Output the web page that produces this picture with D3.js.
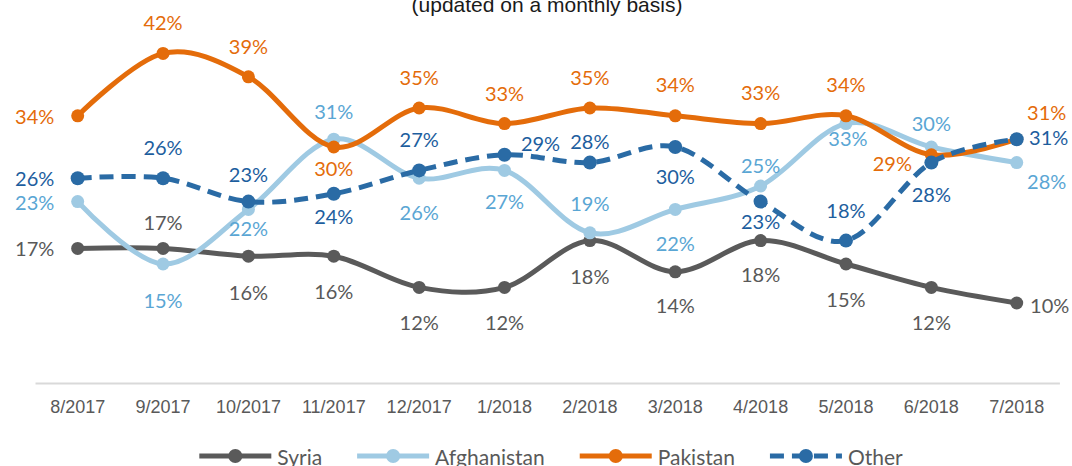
<!DOCTYPE html>
<html>
<head>
<meta charset="utf-8">
<script src="https://cdn.jsdelivr.net/npm/d3@7"></script>
<style>
  body { margin: 0; background: #fff; }
</style>
</head>
<body>
<div id="chart"></div>
<script>
const months = ["8/2017", "9/2017", "10/2017", "11/2017", "12/2017", "1/2018",
  "2/2018", "3/2018", "4/2018", "5/2018", "6/2018", "7/2018"];

const syria       = [17, 17, 16, 16, 12, 12, 18, 14, 18, 15, 12, 10];
const afghanistan = [23, 15, 22, 31, 26, 27, 19, 22, 25, 33, 30, 28];
const pakistan    = [34, 42, 39, 30, 35, 33, 35, 34, 33, 34, 29, 31];
const other       = [26, 26, 23, 24, 27, 29, 28, 30, 23, 18, 28, 31];

// where each data label sits relative to its point [dx, dy]
const syriaLabelPos = [[-43, 0], [0, -26], [0, 36], [0, 35], [0, 35], [0, 35],
  [0, 35], [0, 33], [0, 33], [0, 35], [0, 35], [33, 2]];
const afghanLabelPos = [[-43, 0], [0, 36], [0, 19], [0, -28], [0, 34], [0, 31],
  [0, -30], [0, 34], [0, -21], [2, 14], [0, -24], [30, 18]];
const pakistanLabelPos = [[-43, 0], [0, -31], [0, -31], [0, 21], [0, -31], [0, -31],
  [0, -31], [0, -32], [0, -32], [0, -32], [-39, 8], [30, -27]];
const otherLabelPos = [[-43, 0], [0, -31], [0, -28], [0, 22], [0, -31], [36, -12],
  [0, -22], [0, 29], [0, 19], [0, -31], [0, 31], [32, -2]];

const width = 1072;
const height = 466;

const series = [
  { name: "Syria", values: syria, labels: syriaLabelPos, color: "#5a5a5a", text: "#595959", r: 6.5 },
  { name: "Afghanistan", values: afghanistan, labels: afghanLabelPos, color: "#9fcae3", text: "#5aa6d4", r: 6.5 },
  { name: "Pakistan", values: pakistan, labels: pakistanLabelPos, color: "#e46c0a", text: "#e46c0a", r: 6.5 },
  { name: "Other", values: other, labels: otherLabelPos, color: "#2a6ba5", text: "#1d5e9e", r: 7, dash: "14,8" }
];

const svg = d3.select("#chart")
  .append("svg")
  .attr("width", width)
  .attr("height", height);

const x = d3.scaleBand()
  .domain(months)
  .range([35, 1059.4]);

const y = d3.scaleLinear()
  .domain([0, 45])
  .range([381, 30]);

const cx = d => x(d) + x.bandwidth() / 2;

// subtitle (top line is cut off in the original)
svg.append("text")
  .attr("x", 547)
  .attr("y", 12)
  .attr("text-anchor", "middle")
  .style("font-family", "'Liberation Sans', Arial, sans-serif")
  .style("font-size", "21px")
  .style("fill", "#1a1a1a")
  .text("(updated on a monthly basis)");

// X axis
const xAxis = svg.append("g")
  .attr("transform", "translate(0,383)")
  .call(d3.axisBottom(x).tickSize(0).tickPadding(17));

xAxis.select(".domain")
  .attr("stroke", "#d9d9d9")
  .attr("stroke-width", 2);

xAxis.selectAll("text")
  .style("font-family", "'Liberation Sans', Arial, sans-serif")
  .style("font-size", "18px")
  .style("fill", "#595959");

const line = d3.line()
  .x((d, i) => cx(months[i]))
  .y(d => y(d))
  .curve(d3.curveCatmullRom.alpha(0));

// lines and markers
series.forEach(s => {
  const g = svg.append("g");
  g.append("path")
    .datum(s.values)
    .attr("d", line)
    .attr("fill", "none")
    .attr("stroke", s.color)
    .attr("stroke-width", 5)
    .attr("stroke-dasharray", s.dash || null);

  g.selectAll("circle")
    .data(s.values)
    .enter()
    .append("circle")
    .attr("cx", (d, i) => cx(months[i]))
    .attr("cy", d => y(d))
    .attr("r", s.r)
    .attr("fill", s.color);
});

// data labels
series.forEach(s => {
  svg.append("g")
    .selectAll("text")
    .data(s.values)
    .enter()
    .append("text")
    .attr("x", (d, i) => cx(months[i]) + s.labels[i][0])
    .attr("y", (d, i) => y(d) + s.labels[i][1])
    .attr("text-anchor", "middle")
    .attr("dominant-baseline", "central")
    .style("font-family", "Lato, 'Open Sans', sans-serif")
    .style("font-size", "20px")
    .style("fill", s.text)
    .text(d => d + "%");
});

// legend
const legend = svg.append("g");
const lineLen = 72;
let lx = 0;
series.forEach(s => {
  const item = legend.append("g").attr("transform", `translate(${lx},0)`);
  item.append("line")
    .attr("x1", 0)
    .attr("x2", lineLen)
    .attr("stroke", s.color)
    .attr("stroke-width", 5)
    .attr("stroke-dasharray", s.dash || null);
  item.append("circle")
    .attr("cx", lineLen / 2)
    .attr("r", 7)
    .attr("fill", s.color);
  const t = item.append("text")
    .attr("x", lineLen + 6)
    .attr("dominant-baseline", "central")
    .style("font-family", "Lato, 'Open Sans', sans-serif")
    .style("font-size", "21px")
    .style("fill", "#595959")
    .text(s.name);
  lx += lineLen + 6 + t.node().getComputedTextLength() + 35;
});
const legendWidth = lx - 35;
legend.attr("transform", `translate(${551 - legendWidth / 2},456)`);
</script>
</body>
</html>
